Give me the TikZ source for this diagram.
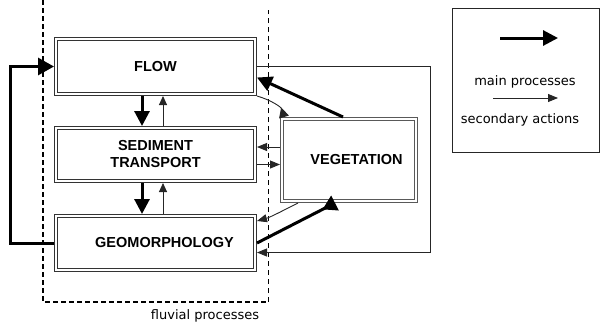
\documentclass[tikz,border=0pt]{standalone}
\usepackage{fontspec}
\setmainfont{DejaVu Sans}
\newfontfamily\boxfont{Liberation Sans}
\usetikzlibrary{arrows.meta,calc}
\begin{document}
\begin{tikzpicture}[x=1pt,y=-1pt,
  procbox/.style={draw=black!80, double=white, double distance=2.4pt, line width=0.9pt,
    outer sep=2.1pt, inner sep=0pt, align=center,
    font=\boxfont\bfseries\fontsize{14.5}{17}\selectfont},
  legbox/.style={draw=black!85, line width=1.3pt, inner sep=0pt},
  small/.style={font=\fontsize{13}{15}\selectfont, inner sep=0pt},
  thickarr/.style={line width=3pt, -{Triangle[length=15pt,width=15pt]}},
  thickrev/.style={line width=3pt, -{Triangle[length=14pt,width=16pt,reversed]}},
  thinarr/.style={draw=black!85, line width=0.9pt, -{Triangle[length=10pt,width=8pt]}},
  thinrev/.style={draw=black!85, line width=0.9pt, -{Triangle[length=10pt,width=10pt,reversed]}},
  vthin/.style={draw=black!85, line width=0.9pt, -{Triangle[length=9pt,width=8pt]}},
  fluvdash/.style={line width=1.4pt, dash pattern=on 5pt off 3pt},
  fluvdashthin/.style={line width=0.9pt, dash pattern=on 5pt off 4pt}]
\useasboundingbox (0,0) rectangle (602,327);

% fluvial processes region
\draw[fluvdash] (43,0) -- (43,302) -- (268,302);
\draw[fluvdashthin] (268,302) -- (268,10);
\node[small] (fluv) at (205,316) {fluvial processes};

% boxes
\node[procbox, minimum width=198.8pt, minimum height=54.8pt] (flow) at (155.5,66.5) {FLOW};
\node[procbox, minimum width=198.8pt, minimum height=52.8pt] (sed) at (155.5,154.5) {SEDIMENT\\TRANSPORT};
\node[procbox, minimum width=198.8pt, minimum height=53.8pt] (geo) at (155.5,243) {\hspace*{18pt}GEOMORPHOLOGY};
\node[procbox, draw=black!65, minimum width=133.8pt, minimum height=81.8pt] (veg) at (349,160) {\hspace*{15pt}VEGETATION};

% vertical arrows between fluvial boxes
\draw[thickarr] ([xshift=-13.5pt]flow.south) -- ([xshift=-13.5pt]sed.north);
\draw[vthin] ([xshift=7.5pt]sed.north) -- ([xshift=7.5pt]flow.south);
\draw[thickarr] ([xshift=-13.5pt]sed.south) -- ([xshift=-13.5pt]geo.north);
\draw[vthin] ([xshift=7.5pt]geo.north) -- ([xshift=7.5pt]sed.south);

% left feedback loop
\draw[line width=3pt, -{Triangle[length=16pt,width=17pt]}] (geo.west) -- ++(-44,0) |- (flow.west);

% right outer loop
\coordinate (rc) at (430,252.5);
\draw[thinarr] (flow.east) -| (rc) -- (rc -| geo.east);

% vegetation links
\draw[thickarr] ([xshift=-6pt]veg.north) -- ([yshift=-11pt]flow.east);
\draw[thinrev] (flow.south east) .. controls +(14pt,-4pt) and +(-3pt,10pt) .. ([xshift=4pt]veg.north west);
\coordinate (v1) at ([yshift=13pt]veg.west);
\draw[thinarr] (v1) -- (v1 -| sed.east);
\coordinate (s1) at ([yshift=-10pt]sed.east);
\draw[thinarr] (s1) -- (s1 -| veg.west);
\draw[thinarr] ([xshift=-51pt]veg.south) .. controls +(-12pt,-6pt) and +(14pt,4pt) .. ([yshift=22pt]geo.east);
\draw[thickrev] (geo.east) -- ([xshift=-14pt]veg.south);

% legend
\node[legbox, minimum width=146.7pt, minimum height=143.7pt] (legend) at (526,80.5) {};
\coordinate (la1) at (500,38);
\coordinate (la2) at (558,38);
\draw[thickarr] (la1) -- (la2);
\node[small] (lmain) at (525,82) {main processes};
\coordinate (lb1) at (493,98);
\coordinate (lb2) at (558,98);
\draw[thinarr] (lb1) -- (lb2);
\node[small] (lsec) at (520,120) {secondary actions};
\end{tikzpicture}
\end{document}
